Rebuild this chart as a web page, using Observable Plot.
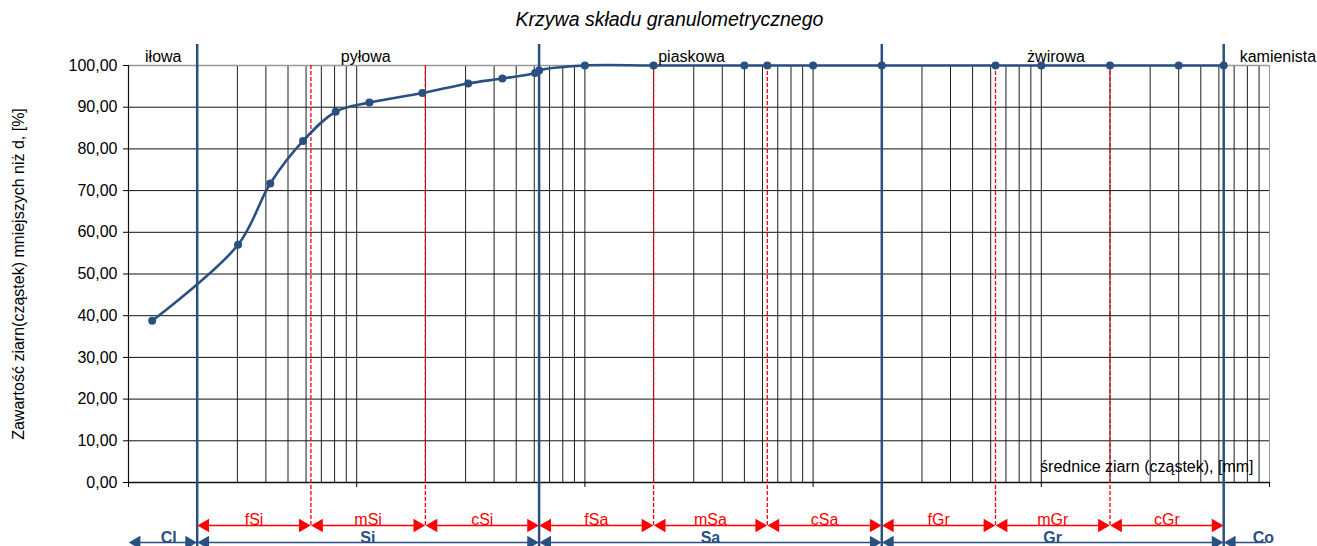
<!DOCTYPE html>
<html>
<head>
<meta charset="utf-8">
<script src="https://cdn.jsdelivr.net/npm/d3@7"></script>
<script src="https://cdn.jsdelivr.net/npm/@observablehq/plot@0.6"></script>
<style>
  body { margin: 0; background: #fff; font-family: "Liberation Sans", Arial, sans-serif; }
  #title { height: 36px; line-height: 38px; text-align: center; font-style: italic; font-size: 19.5px; color: #000; width: 1317px; padding-left: 22px; box-sizing: border-box; }
</style>
</head>
<body>
<div id="title">Krzywa składu granulometrycznego</div>
<div id="chart"></div>
<script>
// ---- data ----
const grainSize = [0.00127, 0.00302, 0.00418, 0.00582, 0.00809, 0.01137, 0.0194, 0.0308, 0.0435, 0.0605, 0.063, 0.1, 0.2, 0.5, 0.63, 1, 2, 6.3, 10, 20, 40, 63];
const passing   = [38.8, 57.0, 71.7, 81.9, 88.9, 91.1, 93.4, 95.7, 96.9, 98.2, 98.8, 100, 100, 100, 100, 100, 100, 100, 100, 100, 100, 100];

const yTicks = [0, 10, 20, 30, 40, 50, 60, 70, 80, 90, 100];
const xTicks = [0.001, 0.01, 0.1, 1, 10, 100];
const xTickLabels = ["0,001", "0,01", "0,1", "1", "10", "100"];

const fractionBounds = [0.002, 0.063, 2, 63];
const subBounds = [0.0063, 0.02, 0.2, 0.63, 6.3, 20];

const subNames = ["fSi", "mSi", "cSi", "fSa", "mSa", "cSa", "fGr", "mGr", "cGr"];
const subEdges = [0.002, 0.0063, 0.02, 0.063, 0.2, 0.63, 2, 6.3, 20, 63];

const mainNames = ["Cl", "Si", "Sa", "Gr", "Co"];
const mainEdges = [0.001, 0.002, 0.063, 2, 63, 100];
const mainLabelX = [0.0015, 0.0112, 0.355, 11.2, 94];
const mainHeadLeft  = [true, true, true, true, true];
const mainHeadRight = [true, true, true, true, false];

const zoneNames = ["iłowa", "pyłowa", "piaskowa", "żwirowa", "kamienista"];
const zoneX = [0.00142, 0.01095, 0.2095, 11.6, 74];
const zoneAnchor = ["middle", "middle", "start", "middle", "start"];

// ---- derived tables ----
const points = grainSize.map((d, i) => ({d, p: passing[i]}));
const minorGrid = [];
for (const dec of [0.001, 0.01, 0.1, 1, 10]) for (let m = 1; m <= 9; m++) minorGrid.push(+(dec * m).toPrecision(3));
const subSegs = subNames.map((n, i) => ({name: n, a: subEdges[i], b: subEdges[i + 1], mid: Math.sqrt(subEdges[i] * subEdges[i + 1])}));
const mainSegs = mainNames.map((n, i) => ({name: n, a: mainEdges[i], b: mainEdges[i + 1], lx: mainLabelX[i], hl: mainHeadLeft[i], hr: mainHeadRight[i]}));
const zones = zoneNames.map((n, i) => ({name: n, x: zoneX[i], anchor: zoneAnchor[i]}));

const BLUE = "#2a5082";
const RED = "#ff0000";
const FS = 16;
const fmtY = d => d.toFixed(2).replace(".", ",");

const subHeadsL = subSegs.map(s => ({x: s.a}));
const subHeadsR = subSegs.map(s => ({x: s.b}));
const mainHeadsL = mainSegs.filter(s => s.hl).map(s => ({x: s.a}));
const mainHeadsR = mainSegs.filter(s => s.hr).map(s => ({x: s.b}));

const chart = Plot.plot({
  width: 1317,
  height: 510,
  marginTop: 29,
  marginBottom: 64,
  marginLeft: 128,
  marginRight: 48,
  style: {fontFamily: "'Liberation Sans', Arial, sans-serif", fontSize: FS + "px", color: "#000", background: "#fff", overflow: "visible"},
  x: {type: "log", domain: [0.001, 100]},
  y: {domain: [0, 100]},
  marks: [
    // grid
    Plot.ruleX(minorGrid.filter(v => v > 0.001), {stroke: "#1e1e1e", strokeWidth: 1}),
    Plot.ruleX([100], {stroke: "#999", strokeWidth: 1}),
    Plot.ruleY(yTicks.filter(v => v > 0 && v < 100), {stroke: "#111", strokeWidth: 1}),
    Plot.ruleY([100], {stroke: "#999", strokeWidth: 1.5}),
    Plot.ruleX([0.001], {stroke: "#111", strokeWidth: 1.2}),
    Plot.ruleY([0], {stroke: "#111", strokeWidth: 1.4}),
    // red dashed sub-fraction boundaries
    Plot.ruleX(subBounds, {stroke: RED, strokeWidth: 1.3, strokeDasharray: "4,2", insetBottom: -45}),
    // blue fraction boundaries
    Plot.ruleX(fractionBounds, {stroke: BLUE, strokeWidth: 2.5, insetTop: -21, insetBottom: -64}),
    // axes
    Plot.axisY({ticks: yTicks, tickFormat: fmtY, tickSize: 5, tickPadding: 6, label: "Zawartość ziarn(cząstek) mniejszych niż d, [%]", labelAnchor: "center", labelArrow: "none", labelOffset: 116, fontSize: FS}),
    Plot.axisX({ticks: xTicks, tickFormat: (d, i) => xTickLabels[i], tickSize: 5, tickPadding: 11, label: null, fontSize: FS}),
    // curve
    Plot.line(points, {x: "d", y: "p", stroke: BLUE, strokeWidth: 2.6, curve: "catmull-rom"}),
    Plot.dot(points, {x: "d", y: "p", fill: BLUE, r: 4}),
    // zone labels above plot
    Plot.text(zones.filter(z => z.anchor === "middle"), {x: "x", y: () => 100, text: "name", textAnchor: "middle", dy: -9, fontSize: FS, fill: "#000"}),
    Plot.text(zones.filter(z => z.anchor === "start"), {x: "x", y: () => 100, text: "name", textAnchor: "start", dy: -9, fontSize: FS, fill: "#000"}),
    // axis title inside plot
    Plot.text(["średnice ziarn (cząstek), [mm]"], {frameAnchor: "bottom-right", dx: -16, dy: -11, textAnchor: "end", fontSize: FS, fill: "#000"}),
    // red sub-fraction arrows
    Plot.ruleY(subSegs, {x1: "a", x2: "b", y: () => 0, dy: 43, stroke: RED, strokeWidth: 1.5, insetLeft: 3, insetRight: 3}),
    Plot.dot(subHeadsL, {x: "x", y: () => 0, dy: 43, dx: 8, symbol: "triangle", rotate: -90, r: 5, fill: RED, stroke: "none"}),
    Plot.dot(subHeadsR, {x: "x", y: () => 0, dy: 43, dx: -8, symbol: "triangle", rotate: 90, r: 5, fill: RED, stroke: "none"}),
    Plot.text(subSegs, {x: "mid", y: () => 0, dy: 37, text: "name", fill: RED, fontSize: FS}),
    // blue main fraction arrows
    Plot.ruleY(mainSegs, {x1: "a", x2: "b", y: () => 0, dy: 60, stroke: BLUE, strokeWidth: 1.5, insetLeft: 3, insetRight: 3}),
    Plot.dot(mainHeadsL, {x: "x", y: () => 0, dy: 60, dx: 8, symbol: "triangle", rotate: -90, r: 5, fill: BLUE, stroke: "none"}),
    Plot.dot(mainHeadsR, {x: "x", y: () => 0, dy: 60, dx: -8, symbol: "triangle", rotate: 90, r: 5, fill: BLUE, stroke: "none"}),
    Plot.text(mainSegs, {x: "lx", y: () => 0, dy: 55, text: "name", fill: BLUE, fontSize: FS, fontWeight: "bold"})
  ]
});
document.getElementById("chart").appendChild(chart);
</script>
</body>
</html>
